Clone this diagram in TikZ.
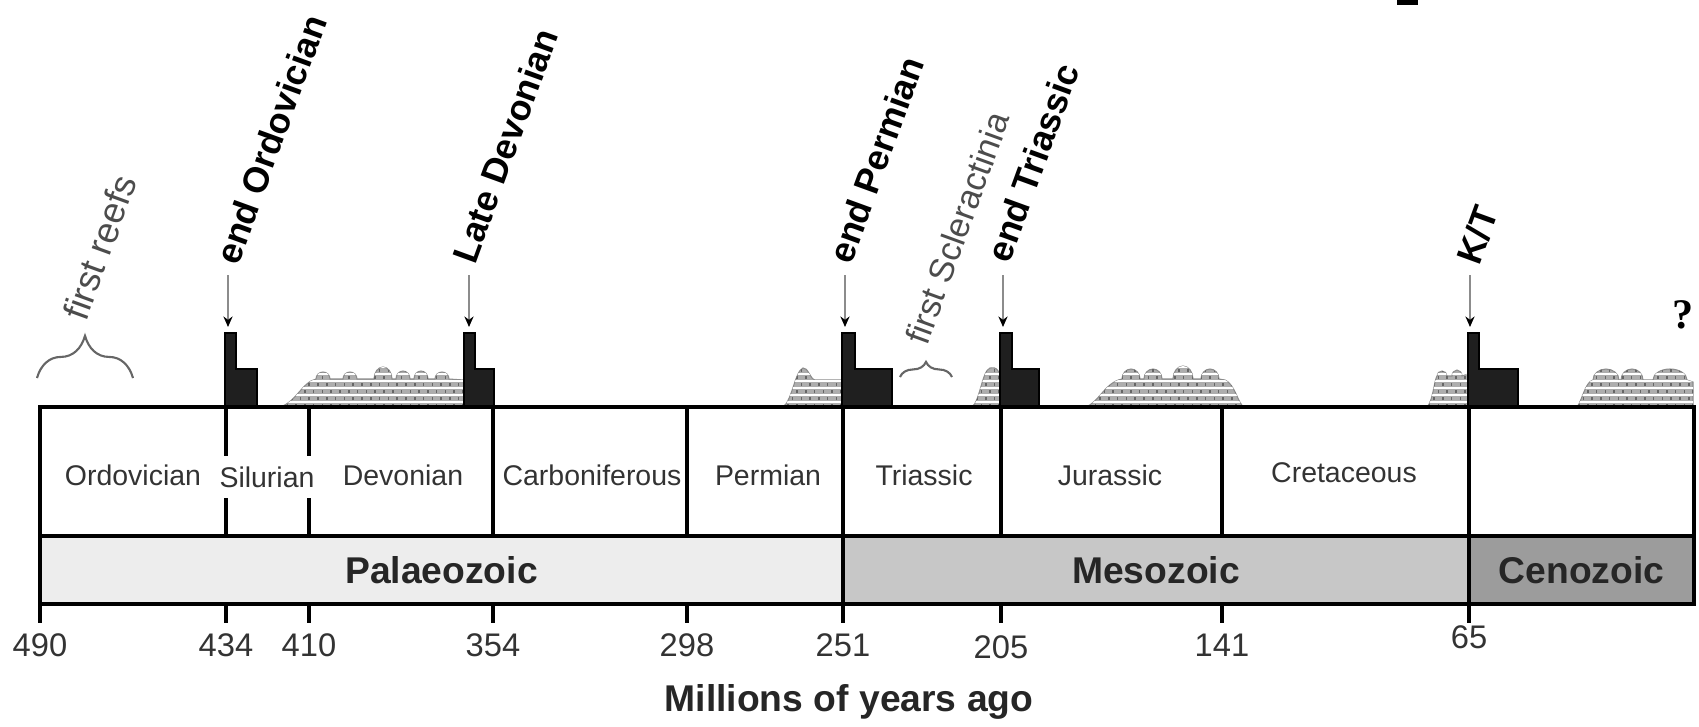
\documentclass[tikz,border=0pt]{standalone}
\usepackage{fontspec}
\setmainfont{Liberation Sans}
\newfontfamily\qmarkfont{Liberation Serif}
\usepackage{tikz}
\usetikzlibrary{positioning,arrows.meta,decorations.pathreplacing,patterns.meta}

% brick texture of the reef mounds
\tikzdeclarepattern{
  name=reefmortar,
  type=uncolored,
  bottom left={(-0.1pt,-0.5pt)},
  top right={(5.1pt,4.5pt)},
  tile size={(5pt,4pt)},
  code={
    \draw[line width=0.7pt] (-0.1pt,0.2pt) -- (5.1pt,0.2pt);
    \draw[line width=0.7pt] (-0.1pt,2.2pt) -- (5.1pt,2.2pt);
  }
}
\tikzdeclarepattern{
  name=reefjoint,
  type=uncolored,
  bottom left={(-0.5pt,-0.5pt)},
  top right={(5.5pt,4.5pt)},
  tile size={(5pt,4pt)},
  code={
    \draw[line width=0.45pt] (0.5pt,0.7pt) -- (0.5pt,1.7pt);
    \draw[line width=0.45pt] (3pt,0.7pt) -- (3pt,1.7pt);
    \draw[line width=0.45pt] (1.75pt,2.7pt) -- (1.75pt,3.7pt);
    \draw[line width=0.45pt] (4.25pt,2.7pt) -- (4.25pt,3.7pt);
  }
}

\begin{document}
\begin{tikzpicture}[
    period/.style  ={font=\fontsize{8.1}{9}\selectfont, text=black!80, inner sep=0pt},
    era/.style     ={font=\fontsize{10.6}{12}\selectfont\bfseries, text=black!85,
                     minimum height=0.68cm, inner sep=0pt},
    extinct/.style ={font=\fontsize{10.2}{12}\selectfont\bfseries, rotate=70,
                     anchor=base west, inner sep=0pt},
    firstlbl/.style={text=black!70, rotate=70, anchor=base west, inner sep=0pt},
    killbar/.style ={fill=black!88, draw=black, line width=0.5pt},
    arrow/.style   ={-{Stealth[length=3pt,width=2.6pt,color=black]}, draw=black!45, line width=0.6pt},
    curly/.style   ={decorate, draw=black!60, line width=0.6pt},
    frame/.style   ={line width=1.2pt},
    divider/.style ={line width=0.9pt},
    tick/.style    ={line width=0.9pt},
    agelbl/.style  ={font=\fontsize{9.3}{11}\selectfont, text=black!80, inner sep=0pt},
    reef/.style    ={fill=black!32, draw=black!45, line width=0.3pt,
                     postaction={pattern=reefmortar, pattern color=white},
                     postaction={pattern=reefjoint, pattern color=black!60}}
]
\useasboundingbox (0,0) rectangle (16.99,7.26);

% --- eras ---
\node[era, fill=black!7,  minimum width=8.03cm] (palaeo) at (4.415,1.56) {Palaeozoic};
\node[era, fill=black!22, minimum width=6.26cm] (meso)   at (11.56,1.56) {Mesozoic};
\node[era, fill=black!39, minimum width=2.25cm] (ceno)   at (15.815,1.56) {Cenozoic};

% --- reef mounds ---
\path[reef] (2.79,3.19) .. controls (2.95,3.22) and (3.02,3.44) .. (3.16,3.47)
    arc[start angle=180, end angle=0, x radius=0.07, y radius=0.07] -- (3.43,3.47)
    arc[start angle=180, end angle=0, x radius=0.07, y radius=0.07] -- (3.74,3.47)
    arc[start angle=180, end angle=0, x radius=0.09, y radius=0.12] -- (3.96,3.47)
    arc[start angle=180, end angle=0, x radius=0.07, y radius=0.08] -- (4.14,3.47)
    arc[start angle=180, end angle=0, x radius=0.07, y radius=0.08] -- (4.35,3.47)
    arc[start angle=180, end angle=0, x radius=0.07, y radius=0.07] -- (4.64,3.46)
    -- (4.64,3.19) -- cycle;
\path[reef] (7.83,3.19) .. controls (7.92,3.25) and (7.95,3.55) .. (8.03,3.58)
    .. controls (8.08,3.59) and (8.10,3.47) .. (8.15,3.46) -- (8.42,3.46)
    -- (8.42,3.19) -- cycle;
\path[reef] (9.72,3.19) .. controls (9.80,3.25) and (9.82,3.55) .. (9.90,3.58)
    .. controls (9.95,3.60) and (9.98,3.56) .. (10.00,3.52) -- (10.00,3.19) -- cycle;
\path[reef] (10.85,3.19) .. controls (10.98,3.22) and (11.05,3.44) .. (11.22,3.47)
    arc[start angle=180, end angle=0, x radius=0.09, y radius=0.10] -- (11.44,3.47)
    arc[start angle=180, end angle=0, x radius=0.09, y radius=0.10] -- (11.73,3.47)
    arc[start angle=180, end angle=0, x radius=0.10, y radius=0.13] -- (12.01,3.47)
    arc[start angle=180, end angle=0, x radius=0.09, y radius=0.10] -- (12.25,3.46)
    .. controls (12.35,3.42) and (12.38,3.22) .. (12.44,3.19) -- cycle;
\path[reef] (14.27,3.19) .. controls (14.33,3.25) and (14.34,3.45) .. (14.37,3.50)
    arc[start angle=180, end angle=0, x radius=0.05, y radius=0.05] -- (14.52,3.50)
    arc[start angle=180, end angle=0, x radius=0.05, y radius=0.06] -- (14.68,3.52)
    -- (14.68,3.19) -- cycle;
\path[reef] (15.77,3.19) .. controls (15.82,3.25) and (15.85,3.44) .. (15.93,3.46)
    arc[start angle=180, end angle=0, x radius=0.13, y radius=0.11] -- (16.21,3.46)
    arc[start angle=180, end angle=0, x radius=0.11, y radius=0.11] -- (16.53,3.46)
    arc[start angle=180, end angle=0, x radius=0.17, y radius=0.11] -- (16.93,3.44)
    -- (16.93,3.19) -- cycle;

% --- extinction bars ---
\fill[killbar] (2.25,3.19) -- (2.25,3.93) -- (2.36,3.93) -- (2.36,3.57) -- (2.57,3.57) -- (2.57,3.19) -- cycle;
\fill[killbar] (4.64,3.19) -- (4.64,3.93) -- (4.75,3.93) -- (4.75,3.57) -- (4.94,3.57) -- (4.94,3.19) -- cycle;
\fill[killbar] (8.42,3.19) -- (8.42,3.93) -- (8.55,3.93) -- (8.55,3.57) -- (8.92,3.57) -- (8.92,3.19) -- cycle;
\fill[killbar] (10.00,3.19) -- (10.00,3.93) -- (10.12,3.93) -- (10.12,3.57) -- (10.39,3.57) -- (10.39,3.19) -- cycle;
\fill[killbar] (14.68,3.19) -- (14.68,3.93) -- (14.79,3.93) -- (14.79,3.57) -- (15.18,3.57) -- (15.18,3.19) -- cycle;

% --- frame, period and era boundaries ---
\draw[frame] (0.40,1.22) rectangle (16.94,3.19);
\draw[frame] (0.40,1.90) -- (16.94,1.90);
\draw[divider] (2.26,1.90) -- (2.26,3.19);
\draw[divider] (3.09,1.90) -- (3.09,3.19);
\draw[divider] (4.93,1.90) -- (4.93,3.19);
\draw[divider] (6.87,1.90) -- (6.87,3.19);
\draw[divider] (10.01,1.90) -- (10.01,3.19);
\draw[divider] (12.22,1.90) -- (12.22,3.19);
\draw[frame] (8.43,1.22) -- (8.43,3.19);
\draw[frame] (14.69,1.22) -- (14.69,3.19);

% --- ticks ---
\draw[tick] (0.40,1.22) -- (0.40,1.03) coordinate (k490);
\draw[tick] (2.26,1.22) -- (2.26,1.03) coordinate (k434);
\draw[tick] (3.09,1.22) -- (3.09,1.03) coordinate (k410);
\draw[tick] (4.93,1.22) -- (4.93,1.03) coordinate (k354);
\draw[tick] (6.87,1.22) -- (6.87,1.03) coordinate (k298);
\draw[tick] (8.43,1.22) -- (8.43,1.03) coordinate (k251);
\draw[tick] (10.01,1.22) -- (10.01,1.03) coordinate (k205);
\draw[tick] (12.22,1.22) -- (12.22,1.03) coordinate (k141);
\draw[tick] (14.69,1.22) -- (14.69,1.03) coordinate (k65);

% --- age labels ---
\node[agelbl, below=0.1cm of k490] (t490) {490};
\node[agelbl, below=0.1cm of k434] (t434) {434};
\node[agelbl, below=0.1cm of k410] (t410) {410};
\node[agelbl, below=0.1cm of k354] (t354) {354};
\node[agelbl, below=0.1cm of k298] (t298) {298};
\node[agelbl, below=0.1cm of k251] (t251) {251};
\node[agelbl, below=0.12cm of k205] (t205) {205};
\node[agelbl, below=0.1cm of k141] (t141) {141};
\node[agelbl, below=0.02cm of k65] (t65) {65};
\node[font=\fontsize{10.6}{12}\selectfont\bfseries, text=black!85, inner sep=0pt]
    (xlab) at (8.49,0.24) {Millions of years ago};

% --- periods ---
\node[period] (ord) at (1.33,2.51) {Ordovician};
\node[period, fill=white, minimum height=0.42cm] (sil) at (2.67,2.49) {Silurian};
\node[period] (dev) at (4.03,2.51) {Devonian};
\node[period] (carb) at (5.92,2.51) {Carboniferous};
\node[period] (perm) at (7.68,2.51) {Permian};
\node[period] (tri) at (9.24,2.51) {Triassic};
\node[period] (jur) at (11.10,2.51) {Jurassic};
\node[period] (cret) at (13.44,2.53) {Cretaceous};

% --- extinction events ---
\coordinate (ordtop) at (2.28,4.51);  \coordinate (ordhit) at (2.28,3.99);
\coordinate (devtop) at (4.69,4.51);  \coordinate (devhit) at (4.69,3.99);
\coordinate (permtop) at (8.45,4.51); \coordinate (permhit) at (8.45,3.99);
\coordinate (tritop) at (10.03,4.51); \coordinate (trihit) at (10.03,3.99);
\coordinate (kttop) at (14.70,4.51);  \coordinate (kthit) at (14.70,3.99);
\node[extinct] (eord)  at ([shift={(0.10,0.08)}]ordtop)  {end Ordovician};
\node[extinct] (edev)  at ([shift={(0.06,0.09)}]devtop)  {Late Devonian};
\node[extinct] (eperm) at ([shift={(0.06,0.09)}]permtop) {end Permian};
\node[extinct] (etri)  at ([shift={(0.06,0.10)}]tritop)  {end Triassic};
\node[extinct] (ekt)   at ([shift={(0.09,0.08)}]kttop)   {K/T};
\draw[arrow] (ordtop) -- (ordhit);
\draw[arrow] (devtop) -- (devhit);
\draw[arrow] (permtop) -- (permhit);
\draw[arrow] (tritop) -- (trihit);
\draw[arrow] (kttop) -- (kthit);

% --- first appearances ---
\draw[curly, decoration={brace, amplitude=12pt}] (0.37,3.48) -- (1.33,3.48);
\node[firstlbl, font=\fontsize{10.4}{12}\selectfont] (freefs) at (0.86,4.03) {first reefs};
\draw[curly, decoration={brace, amplitude=4.3pt}] (9.00,3.49) -- (9.52,3.49);
\node[firstlbl, font=\fontsize{9.8}{11}\selectfont] (fscler) at (9.27,3.79) {first Scleractinia};

% --- question mark, top edge mark ---
\node[font=\qmarkfont\fontsize{12}{14}\selectfont\bfseries, inner sep=0pt] (qmark) at (16.83,4.11) {?};
\fill (13.97,7.21) rectangle (14.18,7.26);

\end{tikzpicture}
\end{document}
